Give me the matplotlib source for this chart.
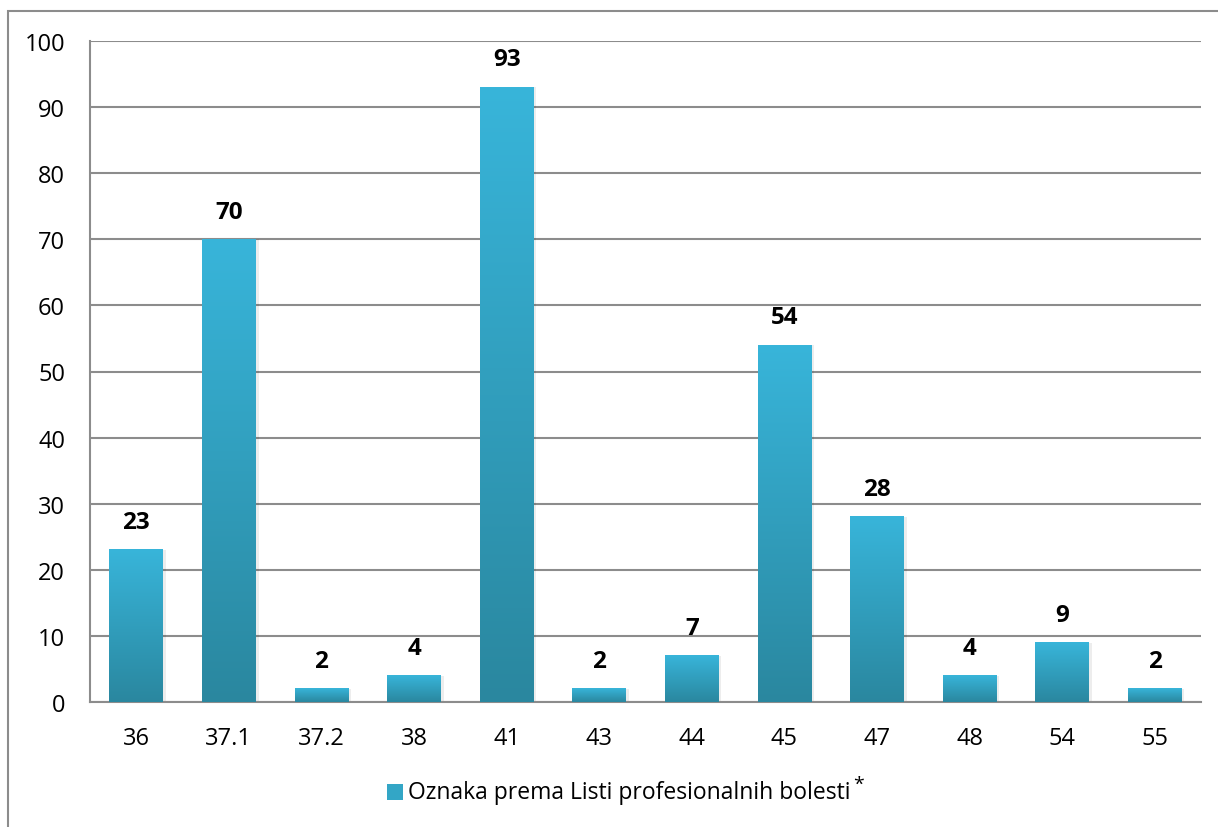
import matplotlib
matplotlib.use("Agg")
import matplotlib.pyplot as plt
import numpy as np
from matplotlib.colors import LinearSegmentedColormap
from matplotlib.patches import Rectangle

categories = ["36", "37.1", "37.2", "38", "41", "43", "44", "45", "47", "48", "54", "55"]
values = [23, 70, 2, 4, 93, 2, 7, 54, 28, 4, 9, 2]
yticks = [0, 10, 20, 30, 40, 50, 60, 70, 80, 90, 100]
legend_label = "Oznaka prema Listi profesionalnih bolesti"

plt.rcParams['font.family'] = ['Open Sans', 'DejaVu Sans']

fig = plt.figure(figsize=(12.18, 8.28), dpi=100)
ax = fig.add_axes([90/1218, 1-703/828, (1201-90)/1218, (703-42)/828])

# outer frame
fig.patches.append(Rectangle((8/1218, -0.05), 1.1, 1-12/828+0.05, transform=fig.transFigure,
                             fill=False, edgecolor="#8c8c8c", linewidth=1.5, zorder=0))

cmap = LinearSegmentedColormap.from_list("g", ["#2a879f", "#38b5da"])
grad = np.linspace(0, 1, 256).reshape(-1, 1)
x = np.arange(len(categories))
w = 0.58
for xi, v in zip(x, values):
    # shadow
    ax.add_patch(Rectangle((xi - w/2 + 0.03, -0.0), w, v, facecolor="#000000", alpha=0.07,
                           edgecolor="none", zorder=2))
    ax.imshow(grad, cmap=cmap, aspect="auto", origin="lower",
              extent=(xi - w/2, xi + w/2, 0, v), zorder=3)
    ax.annotate(str(v), (xi, v), xytext=(0, 20), textcoords="offset points",
                ha="center", va="center", fontsize=17.5, fontweight="bold", color="#000000")

ax.set_xlim(-0.5, len(categories) - 0.5)
ax.set_ylim(0, 100)
ax.set_yticks(yticks)
ax.set_xticks(x)
ax.set_xticklabels(categories)
ax.tick_params(axis="both", length=0, labelsize=17, colors="#000000")
ax.tick_params(axis="y", pad=18)
ax.tick_params(axis="x", pad=17)
ax.grid(axis="y", color="#8c8c8c", linewidth=1.5, zorder=1)
ax.set_axisbelow(True)
for s in ["top", "right"]:
    ax.spines[s].set_visible(False)
for s in ["left", "bottom"]:
    ax.spines[s].set_color("#8c8c8c")
    ax.spines[s].set_linewidth(1.5)

# legend
lx = 387/1218
ly = 1-793/828
sq_w = 16/1218
sq_h = 16/828
fig.patches.append(Rectangle((lx, ly - sq_h/2), sq_w, sq_h, transform=fig.transFigure,
                             facecolor="#33a6c6", edgecolor="none"))
t = fig.text(408/1218, ly, legend_label, fontsize=16.5, va="center", ha="left")
fig.canvas.draw()
bb = t.get_window_extent()
fig.text((bb.x1 + 3)/1218, ly + 8/828, "*", fontsize=14, va="center", ha="left")

fig.savefig("out.png", dpi=100)
